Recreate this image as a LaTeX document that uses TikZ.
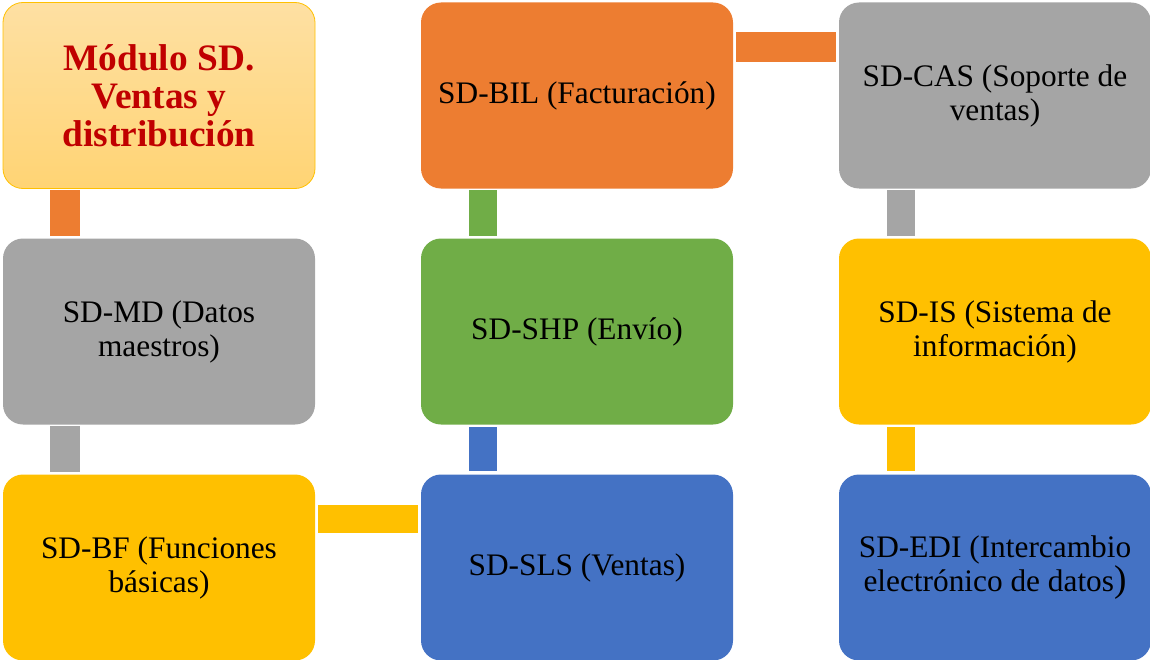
\documentclass[tikz,border=0pt]{standalone}
\usepackage{fontspec}
\setmainfont{Liberation Serif}
\usetikzlibrary{calc}
\definecolor{cOrange}{HTML}{ED7D31}
\definecolor{cGray}{HTML}{A5A5A5}
\definecolor{cYellow}{HTML}{FFC000}
\definecolor{cBlue}{HTML}{4472C4}
\definecolor{cGreen}{HTML}{70AD47}
\definecolor{cRed}{HTML}{C00000}
\definecolor{tTop}{HTML}{FEE0A3}
\definecolor{tBot}{HTML}{FFD474}
\begin{document}
\begin{tikzpicture}[x=0.75pt,y=-0.75pt,
  box/.style={rounded corners=15pt, minimum width=234pt, minimum height=139.5pt,
    align=center, inner sep=0pt, font=\fontsize{23.5}{25.5}\selectfont, text=black},
  titlebox/.style={box, draw=cYellow, line width=0.6pt, top color=tTop, bottom color=tBot,
    font=\fontsize{28}{28.5}\selectfont\bfseries, text=cRed}]
\useasboundingbox (0,0) rectangle (1150,660);
\node[titlebox] (t) at (159,95.5) {Módulo SD.\\Ventas y\\distribución};
\node[box, fill=cGray] (md) at (159,331.5) {SD-MD (Datos\\maestros)};
\node[box, fill=cYellow] (bf) at (159,567.5) {SD-BF (Funciones\\básicas)};
\node[box, fill=cOrange] (bil) at (577,95.5) {SD-BIL (Facturación)};
\node[box, fill=cGreen] (shp) at (577,331.5) {SD-SHP (Envío)};
\node[box, fill=cBlue] (sls) at (577,567.5) {SD-SLS (Ventas)};
\node[box, fill=cGray] (cas) at (995,95.5) {SD-CAS (Soporte de\\ventas)};
\node[box, fill=cYellow] (is) at (995,331.5) {SD-IS (Sistema de\\información)};
\node[box, fill=cBlue] (edi) at (995,567.5) {SD-EDI (Intercambio\\electrónico de datos{\fontsize{28}{25}\selectfont)}};
% connector bars
\fill[cOrange] ($(t.south)+(-109,1.5)$) rectangle ($(md.north)+(-79,-2)$);
\fill[cGray] ($(md.south)+(-109,1.5)$) rectangle ($(bf.north)+(-79,-2)$);
\fill[cGreen] ($(bil.south)+(-108,1.5)$) rectangle ($(shp.north)+(-80,-2)$);
\fill[cBlue] ($(shp.south)+(-108,2.5)$) rectangle ($(sls.north)+(-80,-3)$);
\fill[cGray] ($(cas.south)+(-108,1.5)$) rectangle ($(is.north)+(-80,-2)$);
\fill[cYellow] ($(is.south)+(-108,2.5)$) rectangle ($(edi.north)+(-80,-3)$);
\fill[cOrange] ($(bil.east)+(3,-63.5)$) rectangle ($(cas.west)+(-3,-33.5)$);
\fill[cYellow] ($(bf.east)+(3,-62.5)$) rectangle ($(sls.west)+(-3,-34.5)$);
\end{tikzpicture}
\end{document}
